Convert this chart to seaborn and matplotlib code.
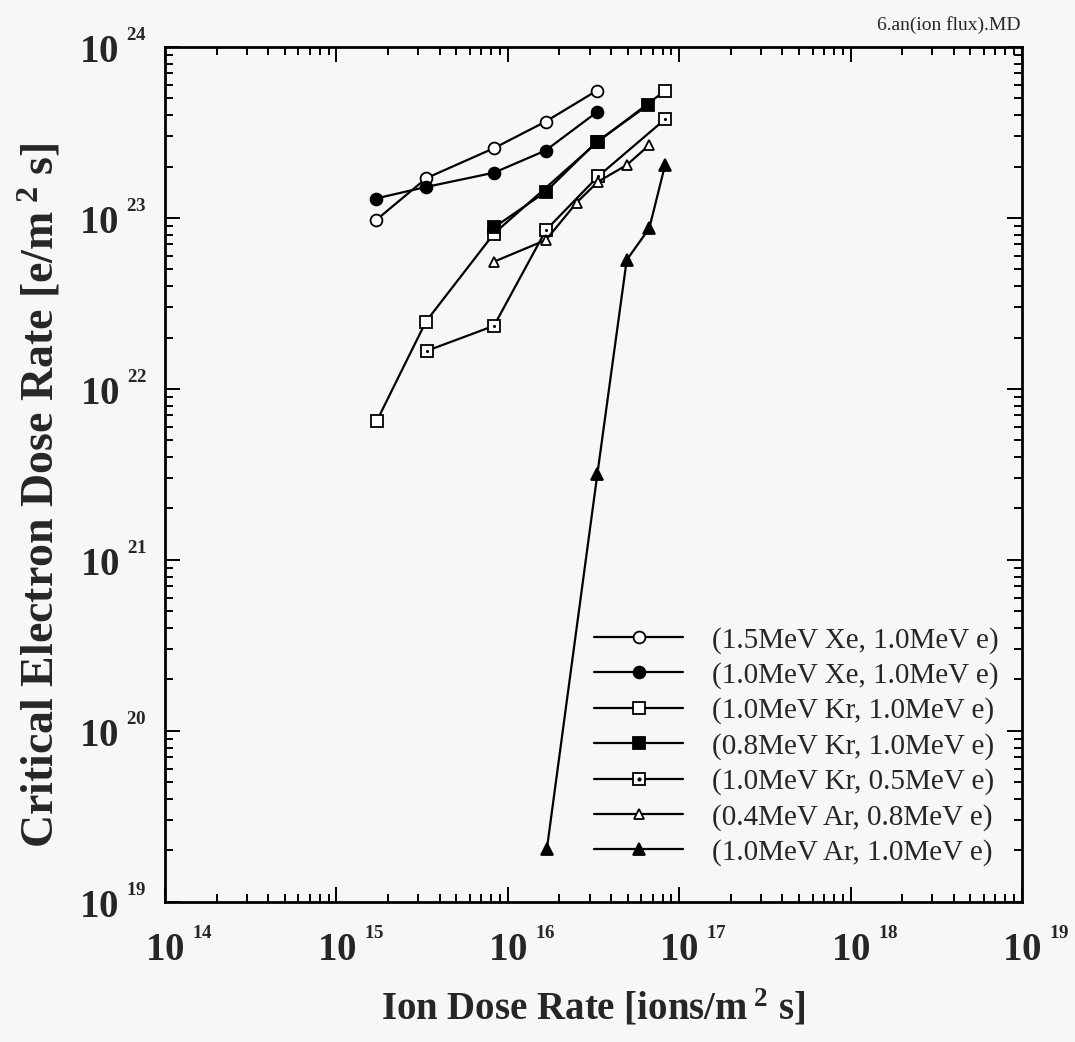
import numpy as np
import pandas as pd
import matplotlib
matplotlib.use("Agg")
import matplotlib.pyplot as plt
import matplotlib.transforms as mtransforms
from matplotlib.ticker import LogLocator, FuncFormatter, NullFormatter
from matplotlib.lines import Line2D
import seaborn as sns

# ---- data: ion dose rate [ions/m^2 s] vs critical electron dose rate [e/m^2 s]
xe15_ion = [1.7e15, 3.35e15, 8.3e15, 1.66e16, 3.3e16]
xe15_e = [9.7e22, 1.71e23, 2.56e23, 3.66e23, 5.55e23]

xe10_ion = [1.7e15, 3.35e15, 8.3e15, 1.66e16, 3.3e16]
xe10_e = [1.30e23, 1.52e23, 1.84e23, 2.48e23, 4.15e23]

kr10_ion = [1.72e15, 3.33e15, 8.3e15, 3.35e16, 8.27e16]
kr10_e = [6.5e21, 2.48e22, 8.1e22, 2.79e23, 5.55e23]

kr08_ion = [8.3e15, 1.66e16, 3.3e16, 6.6e16]
kr08_e = [8.8e22, 1.42e23, 2.79e23, 4.58e23]

kr10_05_ion = [3.36e15, 8.3e15, 1.67e16, 3.36e16, 8.27e16]
kr10_05_e = [1.67e22, 2.34e22, 8.5e22, 1.75e23, 3.78e23]

ar04_ion = [8.3e15, 1.67e16, 2.52e16, 3.36e16, 4.94e16, 6.69e16]
ar04_e = [5.55e22, 7.44e22, 1.23e23, 1.63e23, 2.04e23, 2.67e23]

ar10_ion = [1.69e16, 3.33e16, 4.94e16, 6.69e16, 8.27e16]
ar10_e = [2.04e19, 3.18e21, 5.68e22, 8.71e22, 2.04e23]

labels = [
    "(1.5MeV Xe, 1.0MeV e)",
    "(1.0MeV Xe, 1.0MeV e)",
    "(1.0MeV Kr, 1.0MeV e)",
    "(0.8MeV Kr, 1.0MeV e)",
    "(1.0MeV Kr, 0.5MeV e)",
    "(0.4MeV Ar, 0.8MeV e)",
    "(1.0MeV Ar, 1.0MeV e)",
]
series_x = [xe15_ion, xe10_ion, kr10_ion, kr08_ion, kr10_05_ion, ar04_ion, ar10_ion]
series_y = [xe15_e, xe10_e, kr10_e, kr08_e, kr10_05_e, ar04_e, ar10_e]

# marker styling per series: (marker, face, size)
styles = [
    ("o", "white", 8.5),
    ("o", "black", 8.5),
    ("s", "white", 8.5),
    ("s", "black", 8.5),
    ("s", "white", 8.5),
    ("^", "white", 7.5),
    ("^", "black", 8),
]
dotted = [False, False, False, False, True, False, False]

frames = []
for lab, xs, ys in zip(labels, series_x, series_y):
    frames.append(pd.DataFrame({"ion": xs, "electron": ys, "series": lab}))
df = pd.concat(frames, ignore_index=True)

# ---- style
sns.set_theme(style="ticks")
plt.rcParams["font.family"] = ["Liberation Serif", "DejaVu Serif"]
plt.rcParams["mathtext.fontset"] = "custom"
plt.rcParams["mathtext.rm"] = "Liberation Serif"
plt.rcParams["mathtext.bf"] = "Liberation Serif:bold"
plt.rcParams["mathtext.it"] = "Liberation Serif:italic"

BG = "#f7f7f5"
fig = plt.figure(figsize=(10.75, 10.42), dpi=100, facecolor=BG)
ax = fig.add_axes([0.1535, 0.1344, 0.7972, 0.8205])
ax.set_facecolor(BG)

handles = []
for i, lab in enumerate(labels):
    sub = df[df["series"] == lab]
    m, fc, ms = styles[i]
    sns.lineplot(data=sub, x="ion", y="electron", ax=ax, color="black",
                 linewidth=1.6, marker=m, markersize=ms,
                 markerfacecolor=fc, markeredgecolor="black",
                 markeredgewidth=1.3, sort=False, estimator=None, legend=False)
    h = Line2D([], [], color="black", linewidth=1.6, marker=m, markersize=ms,
               markerfacecolor=fc, markeredgecolor="black", markeredgewidth=1.3)
    if dotted[i]:
        sns.scatterplot(data=sub, x="ion", y="electron", ax=ax, color="black",
                        marker="o", s=5, linewidth=0, legend=False, zorder=5)
        dot = Line2D([], [], linestyle="none", marker="o", markersize=2,
                     color="black")
        h = (h, dot)
    handles.append(h)

ax.set_xscale("log")
ax.set_yscale("log")
ax.set_xlim(1e14, 1e19)
ax.set_ylim(1e19, 1e24)


def fmt(v, pos):
    e = int(round(np.log10(v)))
    return r"$\mathbf{10}\;{}^{{}^{\mathbf{%d}}}$" % e


for axis in (ax.xaxis, ax.yaxis):
    axis.set_major_locator(LogLocator(base=10, numticks=10))
    axis.set_minor_locator(LogLocator(base=10, subs=np.arange(2, 10), numticks=10))
    axis.set_major_formatter(FuncFormatter(fmt))
    axis.set_minor_formatter(NullFormatter())

ax.tick_params(which="both", direction="in", top=True, right=True,
               color="black", width=1.4)
ax.tick_params(which="major", length=11, labelsize=28)
ax.tick_params(which="minor", length=6)
ax.tick_params(axis="x", which="major", pad=20)
ax.tick_params(axis="y", which="major", pad=13)

for sp in ax.spines.values():
    sp.set_linewidth(2)
    sp.set_color("black")

# shift the x tick labels so the base "10" sits under each tick
shift = mtransforms.ScaledTranslation(14 / 100, 0, fig.dpi_scale_trans)
for lbl in ax.get_xticklabels():
    lbl.set_transform(lbl.get_transform() + shift)

ax.set_xlabel(r"Ion Dose Rate [ions/m$^{\ \mathbf{2}}$ s]", fontsize=28,
              fontweight="bold", labelpad=13)
ax.set_ylabel(r"Critical Electron Dose Rate [e/m$^{\ \mathbf{2}}$ s]",
              fontsize=33, fontweight="bold")
ax.yaxis.set_label_coords(-0.118, 0.476)

leg = ax.legend(handles, labels, loc="upper left",
                bbox_to_anchor=(0.501, 0.322), frameon=False, fontsize=21,
                handlelength=3.05, handletextpad=1.0, labelspacing=0.29,
                borderpad=0, borderaxespad=0, numpoints=1)

fig.text(0.949, 0.967, "6.an(ion flux).MD", ha="right", va="bottom",
         fontsize=14)

fig.savefig("out.png", dpi=100, facecolor=BG)
